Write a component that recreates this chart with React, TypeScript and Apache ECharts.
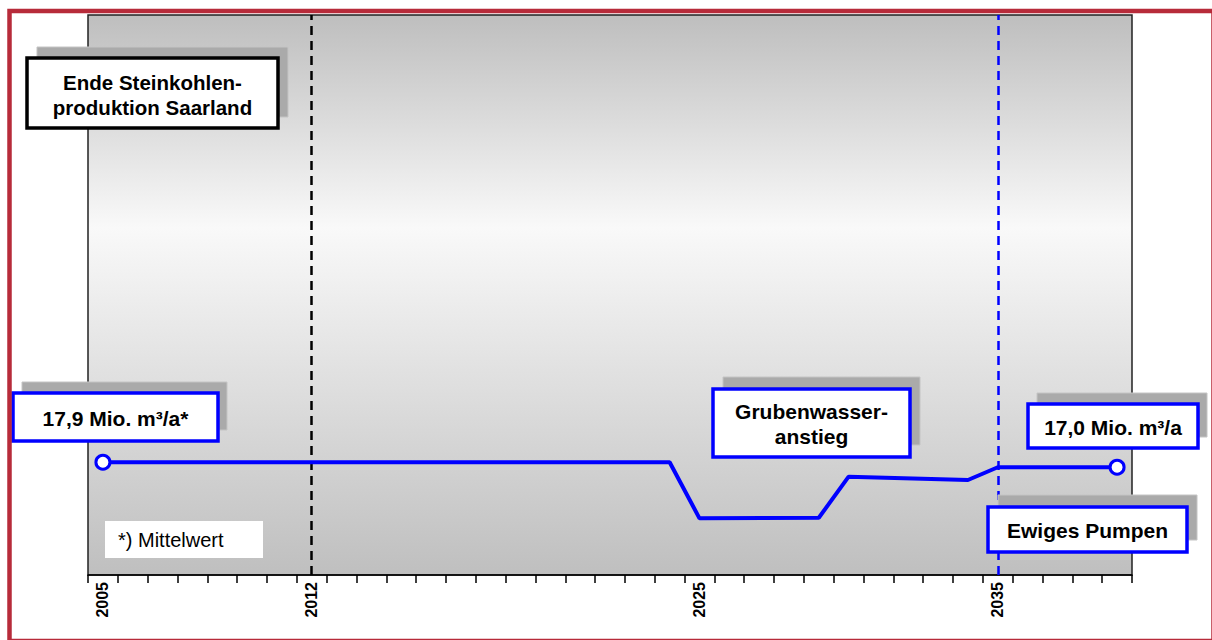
import React, { useEffect, useRef } from "react";
import * as echarts from "echarts";

// categories: years on the x axis
const years: string[] = [
  "2005","2006","2007","2008","2009","2010","2011","2012","2013","2014",
  "2015","2016","2017","2018","2019","2020","2021","2022","2023","2024",
  "2025","2026","2027","2028","2029","2030","2031","2032","2033","2034",
  "2035","2036","2037","2038","2039",
];
const labeledYears: string[] = ["2005", "2012", "2025", "2035"];

// breakpoints of the pumped mine-water line (Mio. m³/a, illustrative)
const lineYears: string[] = ["2005", "2024", "2025", "2029", "2030", "2034", "2035", "2039"];
const lineValues: number[] = [17.9, 17.9, 7.8, 7.9, 15.3, 14.7, 17.0, 17.0];

const endMiningYear = "2012";
const eternalPumpingYear = "2035";

const FONT = '"Liberation Sans", Arial, Helvetica, sans-serif';

function box(
  x: number, y: number, w: number, h: number,
  sx: number, sy: number,
  border: string, text: string, cx: number, cy: number, fs: number
) {
  return [
    {
      type: "rect",
      shape: { x: x + sx, y: y + sy, width: w, height: h },
      style: { fill: "#aaaaaa", stroke: "#c4c4c4", lineWidth: 1 },
      z: 100,
    },
    {
      type: "rect",
      shape: { x, y, width: w, height: h },
      style: { fill: "#ffffff", stroke: border, lineWidth: 3.5 },
      z: 101,
    },
    {
      type: "text",
      style: {
        text, x: cx, y: cy, align: "center", verticalAlign: "middle",
        fontSize: fs, fontWeight: "bold", fontFamily: FONT, lineHeight: 25, fill: "#000",
      },
      z: 102,
    },
  ];
}

export default function App() {
  const ref = useRef<HTMLDivElement>(null);
  useEffect(() => {
    if (!ref.current) return;
    const chart = echarts.init(ref.current, undefined, { renderer: "svg" });
    const lastIdx = lineYears.length - 1;
    const data = lineYears.map((yr, i) => ({
      value: [yr, lineValues[i]],
      symbol: i === 0 || i === lastIdx ? "circle" : "none",
    }));
    chart.setOption({
      animation: false,
      grid: {
        left: 88, top: 15, right: 80, bottom: 65,
        show: true,
        borderColor: "#222",
        borderWidth: 1.5,
        backgroundColor: {
          type: "linear", x: 0, y: 0, x2: 0, y2: 1,
          colorStops: [
            { offset: 0, color: "#bebebe" },
            { offset: 0.38, color: "#f9f9f9" },
            { offset: 1, color: "#bfbfbf" },
          ],
        },
      },
      xAxis: {
        type: "category",
        data: years,
        boundaryGap: true,
        axisLine: { show: true, onZero: false, lineStyle: { color: "#000", width: 1.5 } },
        axisTick: { show: true, interval: 0, length: 8, lineStyle: { color: "#000", width: 1.5 } },
        axisLabel: {
          interval: (_i: number, v: string) => labeledYears.includes(v),
          rotate: 90,
          margin: 7,
          color: "#000",
          fontSize: 16,
          fontWeight: "bold",
          fontFamily: FONT,
        },
        splitLine: { show: false },
      },
      yAxis: {
        type: "value",
        min: -2.4,
        max: 98.4,
        show: false,
        splitLine: { show: false },
      },
      series: [
        {
          type: "line",
          data,
          symbolSize: 14,
          showAllSymbol: true,
          lineStyle: { color: "#0000ff", width: 4 },
          itemStyle: { color: "#ffffff", borderColor: "#0000ff", borderWidth: 3 },
          z: 5,
          markLine: {
            silent: true,
            symbol: ["none", "none"],
            label: { show: false },
            lineStyle: { width: 2.5, type: [9, 6] },
            data: [
              { xAxis: endMiningYear, lineStyle: { color: "#000", type: [9, 6], width: 2.5 } },
              { xAxis: eternalPumpingYear, lineStyle: { color: "#0000ff", type: [9, 6], width: 2.5 } },
            ],
          },
        },
      ],
      graphic: [
        {
          type: "rect",
          shape: { x: 9.5, y: 11, width: 1204, height: 630 },
          style: { fill: "none", stroke: "#b72b3a", lineWidth: 4.5 },
          z: 200,
        },
        ...box(27, 58, 251, 70, 10, -11, "#000000", "Ende Steinkohlen-\nproduktion Saarland", 152.5, 94.5, 20.5),
        ...box(13, 393, 205, 48, 9, -11, "#0000ff", "17,9 Mio. m³/a*", 115.5, 418, 21),
        ...box(713, 389, 197, 68, 10, -12, "#0000ff", "Grubenwasser-\nanstieg", 811.5, 424, 21),
        ...box(1028, 404, 170, 44, 9, -11, "#0000ff", "17,0 Mio. m³/a", 1113, 427, 21),
        ...box(988, 507, 199, 45, 10, -12, "#0000ff", "Ewiges Pumpen", 1087.5, 530, 21),
        {
          type: "rect",
          shape: { x: 105, y: 521, width: 158, height: 37 },
          style: { fill: "#ffffff" },
          z: 100,
        },
        {
          type: "text",
          style: {
            text: "*) Mittelwert", x: 118, y: 540, align: "left", verticalAlign: "middle",
            fontSize: 20, fontFamily: FONT, fill: "#000",
          },
          z: 101,
        },
      ],
    });
    return () => chart.dispose();
  }, []);
  return (
    <div
      ref={ref}
      style={{ position: "fixed", left: 0, top: 0, width: 1212, height: 640, background: "#fff" }}
    />
  );
}
